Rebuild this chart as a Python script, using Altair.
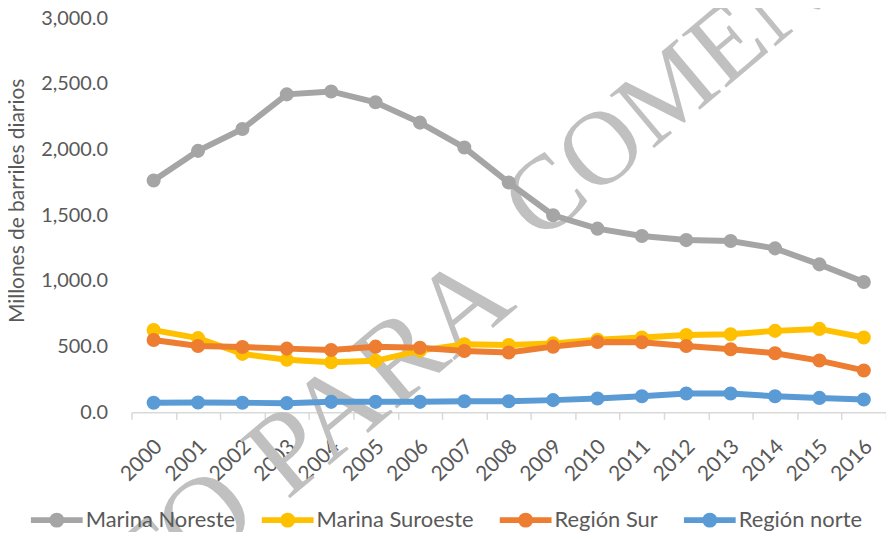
import altair as alt
import pandas as pd

years = [str(y) for y in range(2000, 2017)]
series_names = ["Marina Noreste", "Marina Suroeste", "Región Sur", "Región norte"]
colors = ["#A5A5A5", "#FFC000", "#ED7D31", "#5B9BD5"]

noreste = [1764, 1990, 2156, 2420, 2442, 2360, 2205, 2015, 1749, 1500, 1398, 1342, 1311, 1304, 1248, 1126, 992]
suroeste = [626, 565, 445, 400, 382, 392, 470, 518, 512, 525, 552, 570, 588, 595, 620, 635, 570]
sur = [550, 505, 497, 485, 475, 500, 492, 467, 455, 500, 535, 533, 505, 480, 450, 394, 319]
norte = [73, 75, 73, 70, 80, 80, 80, 85, 85, 93, 105, 123, 143, 143, 123, 110, 98]

y_ticks = [0, 500, 1000, 1500, 2000, 2500, 3000]

rows = []
for name, vals in zip(series_names, [noreste, suroeste, sur, norte]):
    for yr, v in zip(years, vals):
        rows.append({"year": yr, "serie": name, "value": v})
df = pd.DataFrame(rows)

FONT = "Lato"
TXT = "#595959"

x_enc = alt.X(
    "year:O",
    scale=alt.Scale(type="band", paddingInner=0, paddingOuter=0),
    axis=alt.Axis(
        title=None,
        labelAngle=-45,
        labelAlign="right",
        labelBaseline="middle",
        labelFontSize=21,
        labelColor=TXT,
        labelFont=FONT,
        labelPadding=24,
        labelOffset=5,
        tickBand="extent",
        tickSize=7,
        tickColor="#D9D9D9",
        tickWidth=1.5,
        domainColor="#D9D9D9",
        domainWidth=1.5,
        grid=False,
    ),
)
y_enc = alt.Y(
    "value:Q",
    scale=alt.Scale(domain=[0, 3000], nice=False),
    axis=alt.Axis(
        title="Millones de barriles diarios",
        titleFont=FONT,
        titleFontSize=21,
        titleFontWeight="normal",
        titleColor=TXT,
        titleX=-114,
        titleY=183,
        titleAngle=270,
        titleAlign="center",
        titleBaseline="middle",
        values=y_ticks,
        format=",.1f",
        labelFont=FONT,
        labelFontSize=20,
        labelColor=TXT,
        labelPadding=24,
        ticks=False,
        domain=False,
        grid=False,
    ),
)
color_scale = alt.Scale(domain=series_names, range=colors)

# legend glyph: line with a marker dot (two small stroked circles give a solid dot)
legend_path = (
    "M-1,0L1,0"
    "M0.173,0C0.173,0.0955,0.0955,0.173,0,0.173C-0.0955,0.173,-0.173,0.0955,-0.173,0"
    "C-0.173,-0.0955,-0.0955,-0.173,0,-0.173C0.0955,-0.173,0.173,-0.0955,0.173,0Z"
    "M0.058,0C0.058,0.032,0.032,0.058,0,0.058C-0.032,0.058,-0.058,0.032,-0.058,0"
    "C-0.058,-0.032,-0.032,-0.058,0,-0.058C0.032,-0.058,0.058,-0.032,0.058,0Z"
)

lines = alt.Chart(df).mark_line(strokeWidth=6).encode(
    x=x_enc,
    y=y_enc,
    color=alt.Color(
        "serie:N",
        scale=color_scale,
        legend=alt.Legend(
            title=None,
            orient="none",
            legendX=-104,
            legendY=475,
            direction="horizontal",
            columnPadding=14,
            symbolType=legend_path,
            symbolSize=2704,
            symbolStrokeWidth=6,
            labelFont=FONT,
            labelFontSize=22,
            labelColor=TXT,
            labelOffset=0,
        ),
    ),
    detail="serie:N",
)
points = alt.Chart(df).mark_point(filled=True, size=200, opacity=1).encode(
    x=x_enc,
    y=y_enc,
    fill=alt.Fill("serie:N", scale=color_scale, legend=None),
)

wm_style = dict(font="Liberation Serif", color="#C0C0C0", angle=320,
                baseline="alphabetic", align="left")
wm0 = alt.Chart(pd.DataFrame({"t": ["DOCUMENTO"]})).mark_text(
    fontSize=118, **{**wm_style, "align": "right"}
).encode(text="t:N", x=alt.value(131), y=alt.value(504))
wm1 = alt.Chart(pd.DataFrame({"t": ["PARA"]})).mark_text(
    fontSize=118, **wm_style
).encode(text="t:N", x=alt.value(156), y=alt.value(485))
wm2 = alt.Chart(pd.DataFrame({"t": ["COMENTARIOS"]})).mark_text(
    fontSize=106, **wm_style
).encode(text="t:N", x=alt.value(410), y=alt.value(227))

chart = alt.layer(wm0, wm1, wm2, lines, points).properties(
    width=758,
    height=396,
    autosize=alt.AutoSizeParams(type="none"),
    padding={"left": 124, "top": 9, "right": 0, "bottom": 119},
).configure_view(stroke=None)

chart.save("out.html", embed_options={"renderer": "svg", "actions": False})
